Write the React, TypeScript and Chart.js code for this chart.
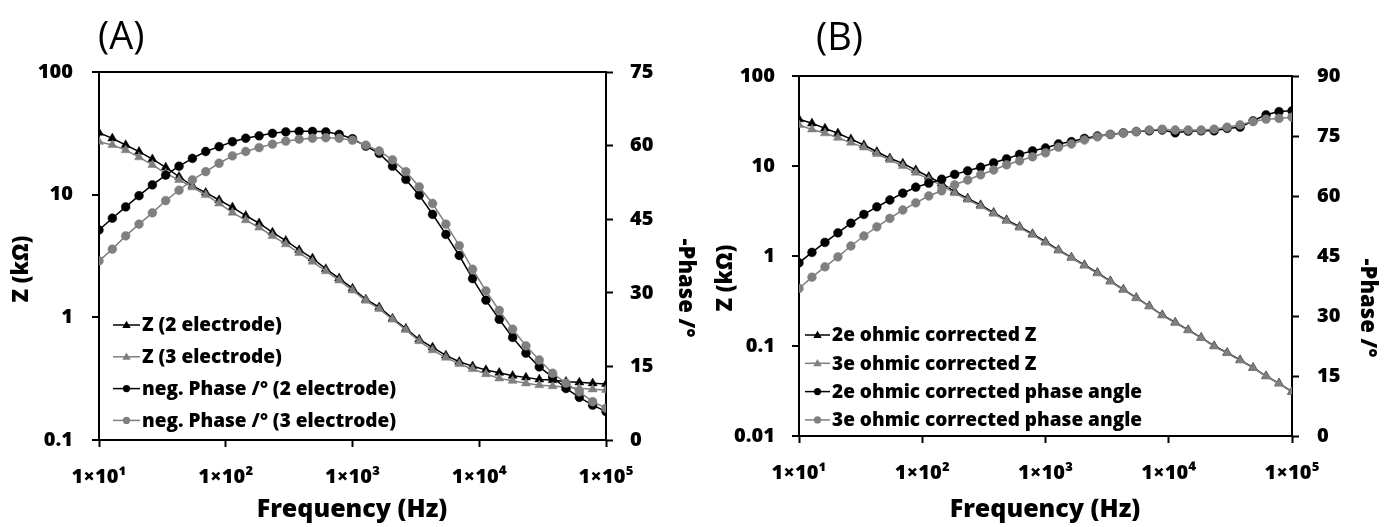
import React, { useEffect, useRef } from 'react';
import { Chart, registerables } from 'chart.js';

Chart.register(...registerables);

const FONT = '"Open Sans", Lato, "DejaVu Sans", sans-serif';
const BOLD = '800';
const BLACK = '#000000';
const GRAY = '#7f7f7f';

// Frequencies (Hz)
const freq = [
  10, 12.74, 16.24, 20.69, 26.37, 33.6, 42.81, 54.56, 69.52, 88.59,
  112.9, 143.8, 183.3, 233.6, 297.6, 379.3, 483.3, 615.8, 784.8, 1000,
  1274, 1624, 2069, 2637, 3360, 4281, 5456, 6952, 8859, 11288,
  14384, 18330, 23357, 29764, 37927, 48329, 61585, 78476, 100000,
];

// Panel A
const zA2 = [32.0, 28.8, 25.4, 22.4, 19.5, 16.7, 14.0, 11.8, 10.4, 9.05, 7.89, 6.74, 5.85, 4.93, 4.22, 3.54, 3.03, 2.48, 2.08, 1.72, 1.40, 1.21, 0.98, 0.81, 0.66, 0.57, 0.49, 0.435, 0.40, 0.372, 0.354, 0.334, 0.324, 0.312, 0.308, 0.299, 0.295, 0.29, 0.286];
const zA3 = [27.0, 25.4, 23.1, 20.2, 17.5, 14.9, 13.2, 11.5, 9.94, 8.5, 7.13, 6.2, 5.4, 4.62, 3.95, 3.35, 2.85, 2.38, 2.0, 1.66, 1.37, 1.17, 0.96, 0.79, 0.64, 0.54, 0.47, 0.417, 0.379, 0.345, 0.318, 0.304, 0.29, 0.28, 0.275, 0.269, 0.264, 0.259, 0.256];
const pA2 = [42.8, 45.2, 47.5, 49.8, 52.0, 54.0, 55.8, 57.4, 58.8, 59.8, 60.8, 61.5, 62.0, 62.5, 62.8, 62.9, 62.9, 62.8, 62.3, 61.4, 59.9, 58.4, 55.8, 53.1, 49.9, 46.0, 41.9, 37.6, 32.9, 28.5, 24.6, 20.9, 17.7, 14.9, 12.8, 10.5, 8.7, 7.1, 5.8];
const pA3 = [36.5, 38.9, 41.6, 44.0, 46.3, 48.8, 50.9, 53.0, 54.7, 56.4, 57.9, 58.8, 59.6, 60.3, 60.9, 61.3, 61.5, 61.6, 61.5, 61.1, 60.1, 58.9, 57.1, 54.7, 51.6, 48.2, 44.0, 39.6, 34.8, 30.4, 26.4, 22.6, 19.2, 16.3, 13.6, 11.6, 9.8, 7.8, 6.5];

// Panel B
const zB2 = [33.1, 29.8, 26.2, 23.1, 19.9, 17.1, 14.4, 12.2, 10.7, 9.03, 7.6, 6.42, 5.19, 4.37, 3.69, 3.03, 2.51, 2.12, 1.76, 1.44, 1.17, 0.966, 0.794, 0.653, 0.527, 0.426, 0.344, 0.278, 0.221, 0.183, 0.151, 0.124, 0.1, 0.0843, 0.0699, 0.0574, 0.0464, 0.0385, 0.0311];
const zB3 = [28.6, 25.5, 23.1, 20.6, 18.2, 16.1, 13.6, 11.7, 10.0, 8.43, 7.11, 6.1, 5.0, 4.22, 3.58, 2.95, 2.45, 2.07, 1.72, 1.41, 1.15, 0.95, 0.78, 0.642, 0.52, 0.42, 0.34, 0.275, 0.219, 0.181, 0.149, 0.123, 0.099, 0.0835, 0.0693, 0.057, 0.0461, 0.0383, 0.031];
const pB2 = [43.3, 45.9, 48.4, 50.8, 53.2, 55.4, 57.3, 59.0, 60.7, 62.2, 63.2, 64.2, 65.4, 66.3, 67.2, 68.3, 69.3, 70.4, 71.3, 72.0, 73.0, 73.6, 74.4, 75.0, 75.4, 75.8, 76.1, 76.3, 76.5, 75.8, 76.2, 76.3, 76.3, 76.9, 77.2, 78.8, 80.3, 81.1, 81.3];
const pB3 = [36.9, 39.7, 42.3, 44.8, 47.5, 50.0, 52.3, 54.4, 56.5, 58.3, 60.0, 61.3, 62.8, 64.0, 65.3, 66.5, 67.8, 68.8, 69.8, 70.8, 72.2, 73.0, 74.0, 74.8, 75.4, 75.7, 76.1, 76.5, 76.7, 76.5, 76.5, 76.5, 76.7, 77.2, 77.8, 78.6, 79.2, 79.4, 79.7];

const labelsA = ['Z (2 electrode)', 'Z (3 electrode)', 'neg. Phase /° (2 electrode)', 'neg. Phase /° (3 electrode)'];
const labelsB = ['2e ohmic corrected Z', '3e ohmic corrected Z', '2e ohmic corrected phase angle', '3e ohmic corrected phase angle'];

const xTickValues = [10, 100, 1000, 10000, 100000];
const xTickLabels = ['1×10¹', '1×10²', '1×10³', '1×10⁴', '1×10⁵'];
const yTicksA = [0.1, 1, 10, 100];
const yTickLabelsA = ['0.1', '1', '10', '100'];
const yTicksB = [0.01, 0.1, 1, 10, 100];
const yTickLabelsB = ['0.01', '0.1', '1', '10', '100'];

const overlayPlugin = {
  id: 'overlay',
  afterDraw(chart: any) {
    const o = chart.options.plugins.overlay;
    if (!o) return;
    const ctx = chart.ctx;
    ctx.save();
    ctx.fillStyle = BLACK;
    // panel label
    ctx.font = `normal 38px ${FONT}`;
    ctx.textAlign = 'left';
    ctx.textBaseline = 'middle';
    ctx.fillText(o.panel.text, o.panel.x, o.panel.y);
    // axis titles
    ctx.textAlign = 'center';
    ctx.font = `${BOLD} 25px ${FONT}`;
    ctx.fillText(o.xTitle.text, o.xTitle.x, o.xTitle.y);
    ctx.font = `${BOLD} 22px ${FONT}`;
    ctx.save();
    ctx.translate(o.yTitle.x, o.yTitle.y);
    ctx.rotate(-Math.PI / 2);
    ctx.fillText(o.yTitle.text, 0, 0);
    ctx.restore();
    ctx.save();
    ctx.translate(o.y2Title.x, o.y2Title.y);
    ctx.rotate(Math.PI / 2);
    ctx.fillText(o.y2Title.text, 0, 0);
    ctx.restore();
    // legend
    const lg = o.legend;
    ctx.font = `${BOLD} ${lg.fontSize}px ${FONT}`;
    ctx.textAlign = 'left';
    chart.data.datasets.forEach((ds: any, i: number) => {
      const y = lg.y0 + i * lg.dy;
      ctx.strokeStyle = ds.borderColor;
      ctx.lineWidth = 1.5;
      ctx.beginPath();
      ctx.moveTo(lg.x0, y);
      ctx.lineTo(lg.x1, y);
      ctx.stroke();
      const cx = (lg.x0 + lg.x1) / 2;
      ctx.fillStyle = ds.pointBackgroundColor;
      ctx.beginPath();
      if (ds.pointStyle === 'triangle') {
        const r = 4.2;
        ctx.moveTo(cx, y - r);
        ctx.lineTo(cx + r, y + r * 0.7);
        ctx.lineTo(cx - r, y + r * 0.7);
        ctx.closePath();
      } else {
        ctx.arc(cx, y, 3.6, 0, Math.PI * 2);
      }
      ctx.fill();
      ctx.fillStyle = BLACK;
      ctx.fillText(ds.label, lg.textX, y + 1);
    });
    ctx.restore();
  },
};

function makeDatasets(labels: string[], z2: number[], z3: number[], p2: number[], p3: number[]) {
  const series = [
    { data: z2, color: BLACK, style: 'triangle', axis: 'y' },
    { data: z3, color: GRAY, style: 'triangle', axis: 'y' },
    { data: p2, color: BLACK, style: 'circle', axis: 'y2' },
    { data: p3, color: GRAY, style: 'circle', axis: 'y2' },
  ];
  return series.map((s, i) => ({
    label: labels[i],
    data: freq.map((f, k) => ({ x: f, y: s.data[k] })),
    yAxisID: s.axis,
    borderColor: s.color,
    backgroundColor: s.color,
    pointBackgroundColor: s.color,
    pointBorderColor: s.color,
    pointStyle: s.style,
    pointRadius: s.style === 'triangle' ? 5.2 : 4.4,
    pointBorderWidth: 0.5,
    borderWidth: 1.5,
    tension: 0,
    order: 4 - i,
  }));
}

interface PanelCfg {
  labels: string[];
  z2: number[]; z3: number[]; p2: number[]; p3: number[];
  yMin: number; yTicks: number[]; yTickLabels: string[];
  y2Max: number;
  leftW: number; rightW: number; top: number; bottomH: number;
  leftPad: number; rightPad: number;
  overlay: any;
}

function Panel({ cfg }: { cfg: PanelCfg }) {
  const ref = useRef<HTMLCanvasElement | null>(null);
  useEffect(() => {
    if (!ref.current) return;
    const tickFont = { family: FONT, size: 20, weight: BOLD };
    const chart = new Chart(ref.current, {
      type: 'line',
      data: { datasets: makeDatasets(cfg.labels, cfg.z2, cfg.z3, cfg.p2, cfg.p3) as any },
      plugins: [overlayPlugin],
      options: {
        responsive: false,
        animation: false,
        events: [],
        layout: { padding: { top: cfg.top, left: 0, right: 0, bottom: 0 } },
        plugins: {
          legend: { display: false },
          tooltip: { enabled: false },
          title: { display: false },
          overlay: cfg.overlay,
        } as any,
        scales: {
          x: {
            type: 'logarithmic',
            min: 10,
            max: 100000,
            afterBuildTicks: (s: any) => { s.ticks = xTickValues.map((v) => ({ value: v })); },
            afterFit: (s: any) => { s.height = cfg.bottomH; },
            ticks: {
              autoSkip: false,
              maxRotation: 0,
              padding: 18,
              color: BLACK,
              font: tickFont,
              callback: (v: any) => xTickLabels[xTickValues.indexOf(Number(v))] ?? '',
            },
            grid: { drawOnChartArea: false, tickLength: 7, tickColor: BLACK, tickWidth: 2 },
            border: { display: true, color: BLACK, width: 2 },
          },
          y: {
            type: 'logarithmic',
            position: 'left',
            min: cfg.yMin,
            max: 100,
            afterBuildTicks: (s: any) => { s.ticks = cfg.yTicks.map((v) => ({ value: v })); },
            afterFit: (s: any) => { s.width = cfg.leftW; },
            ticks: {
              autoSkip: false,
              padding: cfg.leftPad,
              color: BLACK,
              font: tickFont,
              callback: (v: any) => cfg.yTickLabels[cfg.yTicks.indexOf(Number(v))] ?? '',
            },
            grid: {
              color: (c: any) => (c.tick && c.tick.value === 100 ? BLACK : 'rgba(0,0,0,0)'),
              lineWidth: 2,
              tickLength: 7,
              tickColor: BLACK,
              tickWidth: 2,
            },
            border: { display: true, color: BLACK, width: 2 },
          },
          y2: {
            type: 'linear',
            position: 'right',
            min: 0,
            max: cfg.y2Max,
            afterFit: (s: any) => { s.width = cfg.rightW; },
            ticks: {
              stepSize: 15,
              padding: cfg.rightPad,
              color: BLACK,
              font: tickFont,
            },
            grid: { drawOnChartArea: false, tickLength: 7, tickColor: BLACK, tickWidth: 2 },
            border: { display: true, color: BLACK, width: 2 },
          },
        },
      } as any,
    });
    return () => chart.destroy();
  }, [cfg]);
  return <canvas ref={ref} width={697} height={527} style={{ display: 'block', width: 697, height: 527 }} />;
}

const cfgA: PanelCfg = {
  labels: labelsA, z2: zA2, z3: zA3, p2: pA2, p3: pA3,
  yMin: 0.1, yTicks: yTicksA, yTickLabels: yTickLabelsA, y2Max: 75,
  leftW: 99, rightW: 91, top: 72, bottomH: 87, leftPad: 19, rightPad: 17,
  overlay: {
    panel: { text: '(A)', x: 98, y: 38 },
    xTitle: { text: 'Frequency (Hz)', x: 352, y: 510 },
    yTitle: { text: 'Z (kΩ)', x: 22, y: 269 },
    y2Title: { text: '-Phase /°', x: 685, y: 288 },
    legend: { x0: 113, x1: 140, textX: 142, y0: 325, dy: 31.8, fontSize: 19 },
  },
};

const cfgB: PanelCfg = {
  labels: labelsB, z2: zB2, z3: zB3, p2: pB2, p3: pB3,
  yMin: 0.01, yTicks: yTicksB, yTickLabels: yTickLabelsB, y2Max: 90,
  leftW: 102, rightW: 102, top: 76, bottomH: 91, leftPad: 17, rightPad: 18,
  overlay: {
    panel: { text: '(B)', x: 119, y: 39 },
    xTitle: { text: 'Frequency (Hz)', x: 348, y: 510 },
    yTitle: { text: 'Z (kΩ)', x: 29, y: 278 },
    y2Title: { text: '-Phase /°', x: 670, y: 308 },
    legend: { x0: 108, x1: 133, textX: 135, y0: 335, dy: 28.3, fontSize: 19 },
  },
};

export default function App() {
  return (
    <div style={{ position: 'absolute', left: 0, top: 0, width: 1394, height: 527, background: '#ffffff' }}>
      <div style={{ position: 'absolute', left: 0, top: 0 }}>
        <Panel cfg={cfgA} />
      </div>
      <div style={{ position: 'absolute', left: 697, top: 0 }}>
        <Panel cfg={cfgB} />
      </div>
    </div>
  );
}
